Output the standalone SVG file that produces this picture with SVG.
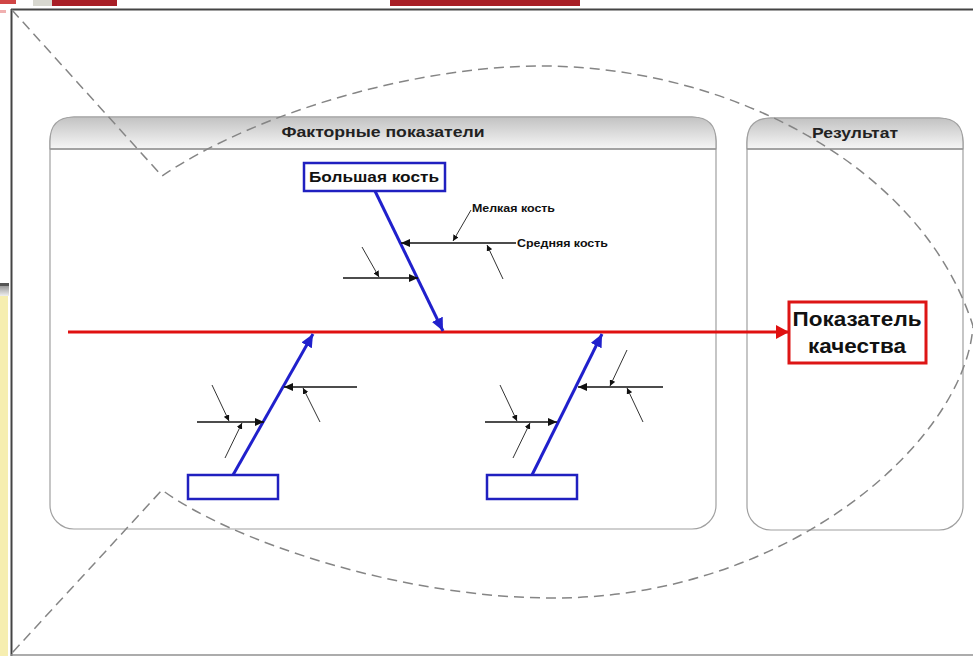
<svg xmlns="http://www.w3.org/2000/svg" width="973" height="656" viewBox="0 0 973 656">
<style>
  .grp { fill: #ffffff; stroke: #a0a0a0; stroke-width: 1.2; }
  .hdr { fill: url(#hdrGrad); stroke: #a0a0a0; stroke-width: 1.2; }
  .hdrline { stroke: #959595; stroke-width: 1.5; }
  .hdrtxt { font-family: "Liberation Sans", Arial, sans-serif; font-weight: bold; font-size: 14px; fill: #222; text-anchor: middle; }
  .fish { fill: none; stroke: #858585; stroke-width: 1.5; stroke-dasharray: 10 6; }
  .spine { stroke: #e01010; stroke-width: 3; fill: none; }
  .bone { stroke: #2020cc; stroke-width: 3; fill: none; }
  .mid { stroke: #111; stroke-width: 1.5; fill: none; }
  .small { stroke: #333; stroke-width: 1; fill: none; }
  .bluebox { fill: #fff; stroke: #2020c0; stroke-width: 2.5; }
  .redbox { fill: #fff; stroke: #dd1515; stroke-width: 3; }
  .lbl { font-family: "Liberation Sans", Arial, sans-serif; font-weight: bold; fill: #111; }
</style>
<defs>
  <linearGradient id="hdrGrad" x1="0" y1="0" x2="0" y2="1">
    <stop offset="0" stop-color="#c2c2c2"/>
    <stop offset="1" stop-color="#f6f6f6"/>
  </linearGradient>
  <linearGradient id="barGrad" x1="0" y1="0" x2="0" y2="1">
    <stop offset="0" stop-color="#9a9a9a"/>
    <stop offset="1" stop-color="#efefef"/>
  </linearGradient>
  <marker id="arrRed" markerUnits="userSpaceOnUse" markerWidth="14" markerHeight="14" refX="13" refY="7" orient="auto">
    <path d="M0,0 L13,7 L0,14 z" fill="#e01010"/>
  </marker>
  <marker id="arrBlue" markerUnits="userSpaceOnUse" markerWidth="14" markerHeight="12" refX="13" refY="6" orient="auto">
    <path d="M0,0 L13,6 L0,12 z" fill="#2020cc"/>
  </marker>
  <marker id="arrBlack" markerUnits="userSpaceOnUse" markerWidth="9" markerHeight="8" refX="9" refY="4" orient="auto">
    <path d="M0,0 L9,4 L0,8 z" fill="#111"/>
  </marker>
  <marker id="arrSmall" markerUnits="userSpaceOnUse" markerWidth="6" markerHeight="6" refX="6" refY="3" orient="auto">
    <path d="M0,0 L6,3 L0,6 z" fill="#111"/>
  </marker>
</defs>

<!-- background / screenshot chrome -->
<rect x="0" y="0" width="973" height="656" fill="#ffffff"/>
<rect x="0" y="0" width="16" height="4" fill="#d04545"/>
<rect x="0" y="10" width="6" height="3" fill="#f0b0b0"/>
<rect x="33" y="0" width="19" height="6" fill="#d8d8d0"/>
<rect x="52" y="0" width="65" height="6" fill="#a81e26"/>
<rect x="390" y="0" width="190" height="6" fill="#a81e26"/>
<rect x="0" y="283" width="9" height="3" fill="#555"/>
<rect x="0" y="286" width="9" height="10" fill="url(#barGrad)"/>
<rect x="0" y="296" width="8" height="360" fill="#f6eeb0"/>
<line x1="11" y1="9.5" x2="973" y2="9.5" stroke="#444" stroke-width="2"/>
<line x1="11.5" y1="9" x2="11.5" y2="656" stroke="#444" stroke-width="2"/>
<line x1="11" y1="655" x2="973" y2="655" stroke="#909090" stroke-width="1.5"/>

<!-- group containers -->
<g id="group-factors">
  <rect class="grp" x="50" y="117" width="666" height="412" rx="24" ry="24"/>
  <path class="hdr" d="M50,149 V141 Q50,117 74,117 H692 Q716,117 716,141 V149 Z"/>
  <line class="hdrline" x1="50" y1="149" x2="716" y2="149"/>
  <text class="hdrtxt" x="383" y="137" textLength="203" lengthAdjust="spacingAndGlyphs">Факторные показатели</text>
</g>
<g id="group-result">
  <rect class="grp" x="747" y="118" width="216" height="412" rx="24" ry="24"/>
  <path class="hdr" d="M747,149 V142 Q747,118 771,118 H939 Q963,118 963,142 V149 Z"/>
  <line class="hdrline" x1="747" y1="149" x2="963" y2="149"/>
  <text class="hdrtxt" x="855" y="138" textLength="86" lengthAdjust="spacingAndGlyphs">Результат</text>
</g>

<!-- fish outline -->
<path class="fish" d="M12,10 L162,176 C260,110 420,66 542,66 C720,66 920,160 973,326 C965,440 790,598 553,598 C400,598 230,540 162,490 L12,653"/>

<!-- connectors -->
<g id="connectors">
  <line class="spine" x1="68" y1="332" x2="789" y2="332" marker-end="url(#arrRed)"/>

  <!-- upper big bone -->
  <line class="bone" x1="375" y1="191" x2="443" y2="331" marker-end="url(#arrBlue)"/>
  <line class="mid" x1="516" y1="243" x2="401" y2="243" marker-end="url(#arrBlack)"/>
  <line class="small" x1="471" y1="210" x2="453" y2="241" marker-end="url(#arrSmall)"/>
  <line class="small" x1="503" y1="279" x2="487" y2="245" marker-end="url(#arrSmall)"/>
  <line class="mid" x1="343" y1="278" x2="418" y2="278" marker-end="url(#arrBlack)"/>
  <line class="small" x1="362" y1="247" x2="379" y2="277" marker-end="url(#arrSmall)"/>

  <!-- lower-left big bone -->
  <line class="bone" x1="233" y1="475" x2="313" y2="334" marker-end="url(#arrBlue)"/>
  <line class="mid" x1="357" y1="387" x2="284" y2="387" marker-end="url(#arrBlack)"/>
  <line class="small" x1="320" y1="422" x2="303" y2="388" marker-end="url(#arrSmall)"/>
  <line class="mid" x1="197" y1="422" x2="264" y2="422" marker-end="url(#arrBlack)"/>
  <line class="small" x1="212" y1="385" x2="229" y2="421" marker-end="url(#arrSmall)"/>
  <line class="small" x1="225" y1="458" x2="242" y2="423" marker-end="url(#arrSmall)"/>

  <!-- lower-right big bone -->
  <line class="bone" x1="532" y1="475" x2="602" y2="334" marker-end="url(#arrBlue)"/>
  <line class="mid" x1="663" y1="387" x2="578" y2="387" marker-end="url(#arrBlack)"/>
  <line class="small" x1="627" y1="350" x2="610" y2="386" marker-end="url(#arrSmall)"/>
  <line class="small" x1="643" y1="422" x2="627" y2="388" marker-end="url(#arrSmall)"/>
  <line class="mid" x1="485" y1="422" x2="557" y2="422" marker-end="url(#arrBlack)"/>
  <line class="small" x1="500" y1="385" x2="517" y2="421" marker-end="url(#arrSmall)"/>
  <line class="small" x1="513" y1="458" x2="530" y2="423" marker-end="url(#arrSmall)"/>
</g>

<!-- nodes -->
<g id="node-big-bone">
  <rect class="bluebox" x="304" y="163" width="141" height="28"/>
  <text class="lbl" x="374" y="182" font-size="15" text-anchor="middle" textLength="130" lengthAdjust="spacingAndGlyphs">Большая кость</text>
</g>
<g id="node-quality">
  <rect class="redbox" x="789" y="302" width="137" height="61"/>
  <text class="lbl" x="857" y="326" font-size="20" text-anchor="middle" textLength="129" lengthAdjust="spacingAndGlyphs">Показатель</text>
  <text class="lbl" x="857" y="353" font-size="20" text-anchor="middle" textLength="98" lengthAdjust="spacingAndGlyphs">качества</text>
</g>
<g id="node-cause-left">
  <rect class="bluebox" x="188" y="475" width="90" height="24"/>
</g>
<g id="node-cause-right">
  <rect class="bluebox" x="487" y="475" width="90" height="24"/>
</g>
<g id="label-small-bone">
  <text class="lbl" x="472" y="212" font-size="10" textLength="83" lengthAdjust="spacingAndGlyphs">Мелкая кость</text>
</g>
<g id="label-mid-bone">
  <text class="lbl" x="517" y="247" font-size="10" textLength="91" lengthAdjust="spacingAndGlyphs">Средняя кость</text>
</g>
</svg>
